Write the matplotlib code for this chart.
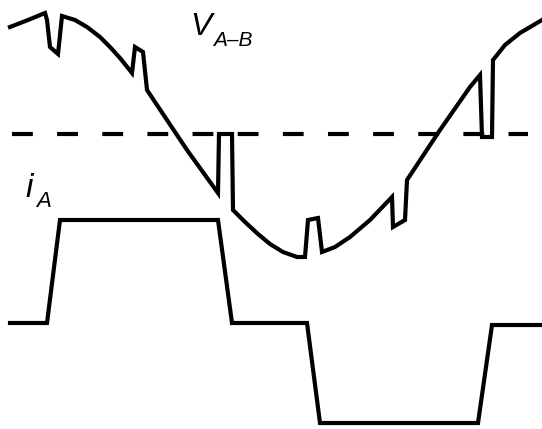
import matplotlib
matplotlib.use("Agg")
import matplotlib.pyplot as plt

# Line voltage V_A-B trace (x, y in drawing units, y grows downward)
v_x = [10, 28, 45, 47, 50, 58, 62, 75, 87, 100, 110, 120, 132, 135, 143, 147,
       187, 218, 219, 232, 233, 245, 258, 270, 283, 297, 305, 308, 318, 322,
       335, 350, 370, 392, 393, 405, 407, 440, 470, 480, 482, 492, 493, 505,
       520, 542]
v_y = [27, 20, 13, 20, 47, 54, 16, 20, 27, 37, 47, 58, 73, 47, 52, 90,
       150, 193, 134, 134, 210, 222, 234, 244, 252, 257, 257, 220, 218, 252,
       247, 237, 220, 197, 227, 220, 180, 130, 87, 75, 137, 137, 60, 45,
       33, 20]

# Phase current i_A trace
i_x = [10, 47, 60, 218, 232, 307, 320, 478, 492, 542]
i_y = [323, 323, 220, 220, 323, 323, 423, 423, 325, 325]

# Zero reference of the voltage
zero_x = [12, 528]
zero_y = [134, 134]

W, H = 542, 429
fig = plt.figure(figsize=(W / 100, H / 100), dpi=100)
ax = fig.add_axes([0, 0, 1, 1])
ax.set_xlim(0, W)
ax.set_ylim(H, 0)
ax.axis("off")

plt.rcParams["lines.scale_dashes"] = False
lw = 3.0
ax.plot(v_x, v_y, color="black", lw=lw, solid_joinstyle="miter")
ax.plot(i_x, i_y, color="black", lw=lw, solid_joinstyle="miter")
ax.plot(zero_x, zero_y, color="black", lw=lw, dashes=(15, 17.5),
        dash_capstyle="butt")

font = "Liberation Sans"
ax.text(190, 35, "V", fontsize=23, fontstyle="italic", family=font,
        ha="left", va="baseline")
ax.text(213, 46, "A–B", fontsize=15, fontstyle="italic", family=font,
        ha="left", va="baseline")
ax.text(25, 197, "i", fontsize=24, fontstyle="italic", family=font,
        ha="left", va="baseline")
ax.text(36, 207, "A", fontsize=16, fontstyle="italic", family=font,
        ha="left", va="baseline")

fig.savefig("out.png", dpi=100, facecolor="white")
